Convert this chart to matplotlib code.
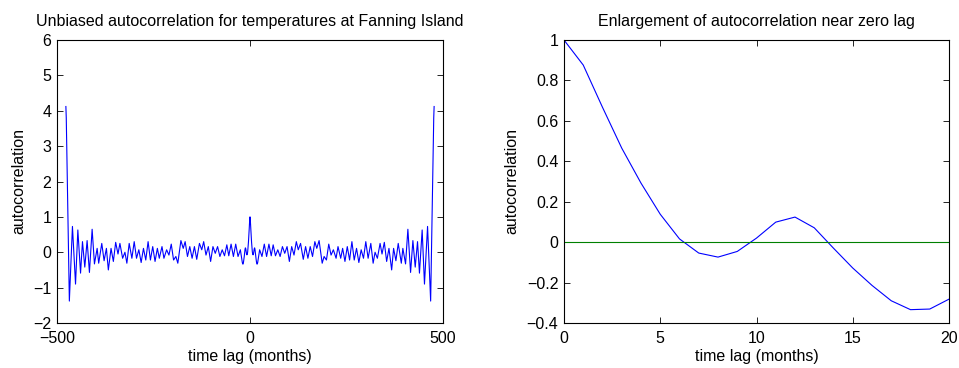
import numpy as np
import matplotlib
matplotlib.use('Agg')
import matplotlib.pyplot as plt
from matplotlib.ticker import FuncFormatter

plt.rcParams['font.family'] = ['Liberation Sans', 'DejaVu Sans']
plt.rcParams['axes.unicode_minus'] = True

## autocorrelation near zero lag (months) ##
near_lag = list(range(0, 21))
near_acf = [1.0, 0.876, 0.667, 0.465, 0.292, 0.138, 0.016, -0.054, -0.074, -0.046,
            0.02, 0.099, 0.124, 0.071, -0.03, -0.128, -0.214, -0.29, -0.334, -0.331, -0.282]

## autocorrelation for positive lags beyond 20 months (peaks and troughs) ##
far_lag = [25, 31, 37, 43, 49, 55, 60, 66, 72, 78, 84, 90, 96, 102, 108, 114, 120, 125,
           131, 138, 144, 150, 156, 162, 168, 173, 179, 187, 192, 198, 204, 210, 216, 223,
           228, 235, 240, 246, 252, 258, 264, 270, 276, 282, 288, 294, 300, 306, 313, 319,
           324, 330, 337, 342, 348, 354, 360, 367, 372, 378, 384, 392, 396, 403, 409, 416,
           422, 428, 434, 439, 446, 452, 460, 468, 476, 477]
far_acf = [0.07, -0.12, 0.23, -0.12, 0.23, -0.10, 0.21, -0.10, 0.07, -0.12, 0.16, -0.03,
           0.16, -0.26, 0.16, -0.08, 0.30, 0.07, 0.25, -0.20, 0.16, -0.17, 0.16, -0.12,
           0.30, 0.11, 0.33, -0.31, -0.12, -0.22, 0.23, -0.08, 0.07, -0.17, 0.16, -0.17,
           0.11, -0.26, 0.16, -0.22, 0.30, -0.22, 0.11, -0.29, 0.07, -0.17, 0.30, -0.17,
           0.25, -0.31, 0.0, -0.17, 0.25, -0.05, 0.28, -0.26, 0.11, -0.50, 0.11, -0.24,
           0.25, -0.31, 0.11, -0.33, 0.65, -0.57, 0.33, -0.42, 0.30, -0.59, 0.63, -0.90,
           0.73, -1.38, 3.80, 4.12]

## unbiased autocorrelation is symmetric in lag ##
pos_lag = np.array(near_lag + far_lag)
pos_acf = np.array(near_acf + far_acf)
lag = np.concatenate([-pos_lag[:0:-1], pos_lag])
acf = np.concatenate([pos_acf[:0:-1], pos_acf])

fig = plt.figure(figsize=(9.59, 3.68), dpi=100)
ax1 = fig.add_axes([57/959, 45/368, 386/959, 283/368])
ax2 = fig.add_axes([564/959, 45/368, 385/959, 283/368])

fs = 11.5

def matlab_fmt(v, pos):
    s = ('%g' % round(v, 6))
    return s.replace('-', '\u2212')

for ax in (ax1, ax2):
    ax.tick_params(direction='in', top=True, right=True, length=4, width=0.6,
                   labelsize=fs)
    ax.tick_params(axis='x', pad=6)
    ax.tick_params(axis='y', pad=4)
    for sp in ax.spines.values():
        sp.set_linewidth(0.8)
    ax.xaxis.set_major_formatter(FuncFormatter(matlab_fmt))
    ax.yaxis.set_major_formatter(FuncFormatter(matlab_fmt))

ax1.plot(lag, acf, color='blue', linewidth=0.8)
ax1.set_xlim(-500, 500)
ax1.set_ylim(-2, 6)
ax1.set_xticks([-500, 0, 500])
ax1.set_yticks(range(-2, 7))
ax1.set_xlabel('time lag (months)', fontsize=fs, labelpad=2)
ax1.set_ylabel('autocorrelation', fontsize=fs, labelpad=5)
ax1.set_title('Unbiased autocorrelation for temperatures at Fanning Island', fontsize=fs, pad=10)

ax2.plot(near_lag, near_acf, color='blue', linewidth=0.8)
ax2.plot(near_lag, np.zeros(len(near_lag)), color=(0, 0.5, 0), linewidth=0.8)
ax2.set_xlim(0, 20)
ax2.set_ylim(-0.4, 1)
ax2.set_xticks([0, 5, 10, 15, 20])
ax2.set_yticks([-0.4, -0.2, 0, 0.2, 0.4, 0.6, 0.8, 1])
ax2.set_xlabel('time lag (months)', fontsize=fs, labelpad=2)
ax2.set_ylabel('autocorrelation', fontsize=fs, labelpad=5)
ax2.set_title('Enlargement of autocorrelation near zero lag', fontsize=fs, pad=10)

fig.savefig('out.png', dpi=100)
